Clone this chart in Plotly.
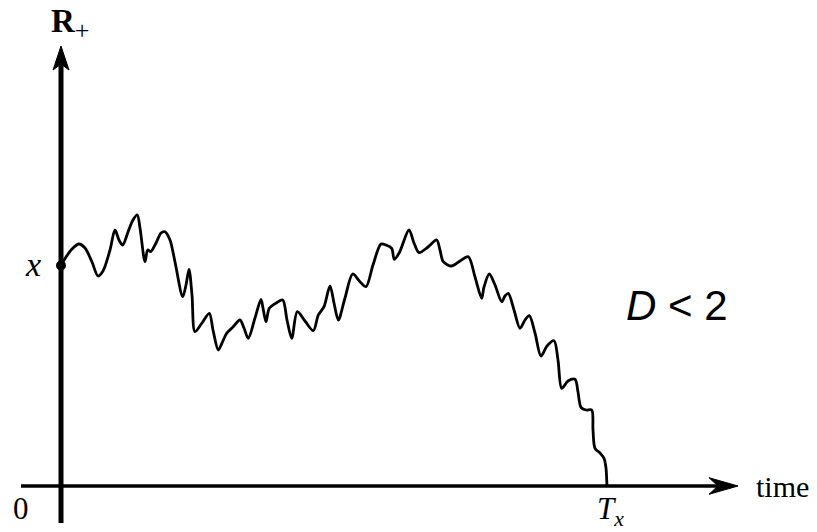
import plotly.graph_objects as go

# Sample path of the process started at x, killed when it first hits 0 at time T_x
time = [0, 5, 11, 18, 24, 31, 37, 42, 49, 54, 58, 61.7, 67, 72, 76.3, 79, 84, 86.7, 89.7, 95,
        100, 104, 109, 114, 121.7, 125, 128, 131, 134, 141, 148.3, 152, 157.3, 161, 165.7, 172,
        179, 183, 187.3, 194, 200, 202, 205, 208.3, 215.7, 221.7, 226, 230.7, 236.3, 244,
        252.3, 257.3, 263, 269, 273, 277.3, 284, 291.7, 299, 305, 312, 320, 325, 330.7, 333.3,
        338.3, 348, 353, 358, 367, 375.7, 379, 382.3, 390.7, 399, 407.3, 414, 420.7, 423,
        428.3, 434, 440.7, 444, 447.3, 453, 459, 464, 468.3, 474, 480, 486, 493, 497, 500.7,
        507, 514, 517, 520, 525, 530.7, 532, 534, 539, 543, 545, 545.7, 546]
value = [220.5, 229, 237, 242, 238, 224, 210, 215, 236, 256, 246, 241, 254, 266, 271, 258,
         224.3, 236, 234.3, 243, 253, 254.3, 246, 224, 189.3, 201, 216.7, 191, 154.3, 163,
         172.7, 156, 136, 143, 152.7, 159, 166, 158, 147.7, 168, 186.7, 178, 164.3, 177.7,
         183.3, 186, 166, 147.7, 174.3, 165, 155.3, 171, 179.3, 200, 183, 166, 188, 212,
         204.3, 199.3, 221, 242, 241, 237.7, 226.7, 233.3, 256, 243, 233.3, 239, 246, 236,
         224.3, 220, 225, 229.3, 209, 187.7, 199, 212, 201, 184.3, 190, 192.7, 176, 157.7,
         166, 170.3, 153, 130, 140, 145.3, 126, 97.7, 105, 106.7, 94, 78.7, 76, 76, 56, 37.7,
         33, 27.7, 18, 6, 0]

start_value = value[0]
hit_time = time[-1]

ink = "black"
serif = "Liberation Serif"

fig = go.Figure()
fig.add_trace(go.Scatter(
    x=time, y=value, mode="lines",
    line=dict(color=ink, width=2.8, shape="spline", smoothing=0.85),
    hoverinfo="skip", showlegend=False))
fig.add_trace(go.Scatter(
    x=[0], y=[start_value], mode="markers",
    marker=dict(color=ink, size=10), hoverinfo="skip", showlegend=False))

shapes = [
    # vertical axis R+
    dict(type="line", x0=0, x1=0, y0=-37, y1=424, line=dict(color=ink, width=5)),
    dict(type="path", path="M 0 440 L -8 416 L 0 422 L 8 416 Z",
         fillcolor=ink, line=dict(color=ink, width=1)),
    # horizontal time axis
    dict(type="line", x0=-40, x1=660, y0=0, y1=0, line=dict(color=ink, width=3.5)),
    dict(type="path", path="M 677 0 L 648 8.3 L 657 0 L 648 -8.3 Z",
         fillcolor=ink, line=dict(color=ink, width=1)),
]

annotations = [
    dict(x=-12, y=462, text="<b>R</b><sub><span style='font-size:26px'>+</span></sub>",
         xanchor="left", yanchor="middle", font=dict(family=serif, size=33, color=ink)),
    dict(x=-28, y=222, text="<i>x</i>", xanchor="center", yanchor="middle",
         font=dict(family=serif, size=34, color=ink)),
    dict(x=-40, y=-22, text="0", xanchor="center", yanchor="middle",
         font=dict(family=serif, size=31, color=ink)),
    dict(x=hit_time - 12, y=-25, text="<i>T</i><sub><i>x</i></sub>", xanchor="left",
         yanchor="middle", font=dict(family=serif, size=31, color=ink)),
    dict(x=721, y=0, text="time", xanchor="center", yanchor="middle",
         font=dict(family=serif, size=30, color=ink)),
    dict(x=616, y=181, text="<i>D</i> < 2", xanchor="center", yanchor="middle",
         font=dict(family="Liberation Sans", size=42, color=ink)),
]
for a in annotations:
    a.update(xref="x", yref="y", showarrow=False)

fig.update_layout(
    width=817, height=532,
    margin=dict(l=0, r=0, t=0, b=0),
    paper_bgcolor="white", plot_bgcolor="white",
    xaxis=dict(range=[-61, 756], visible=False, fixedrange=True),
    yaxis=dict(range=[-46, 486], visible=False, fixedrange=True),
    shapes=shapes, annotations=annotations,
)

fig.write_html("out.html")
